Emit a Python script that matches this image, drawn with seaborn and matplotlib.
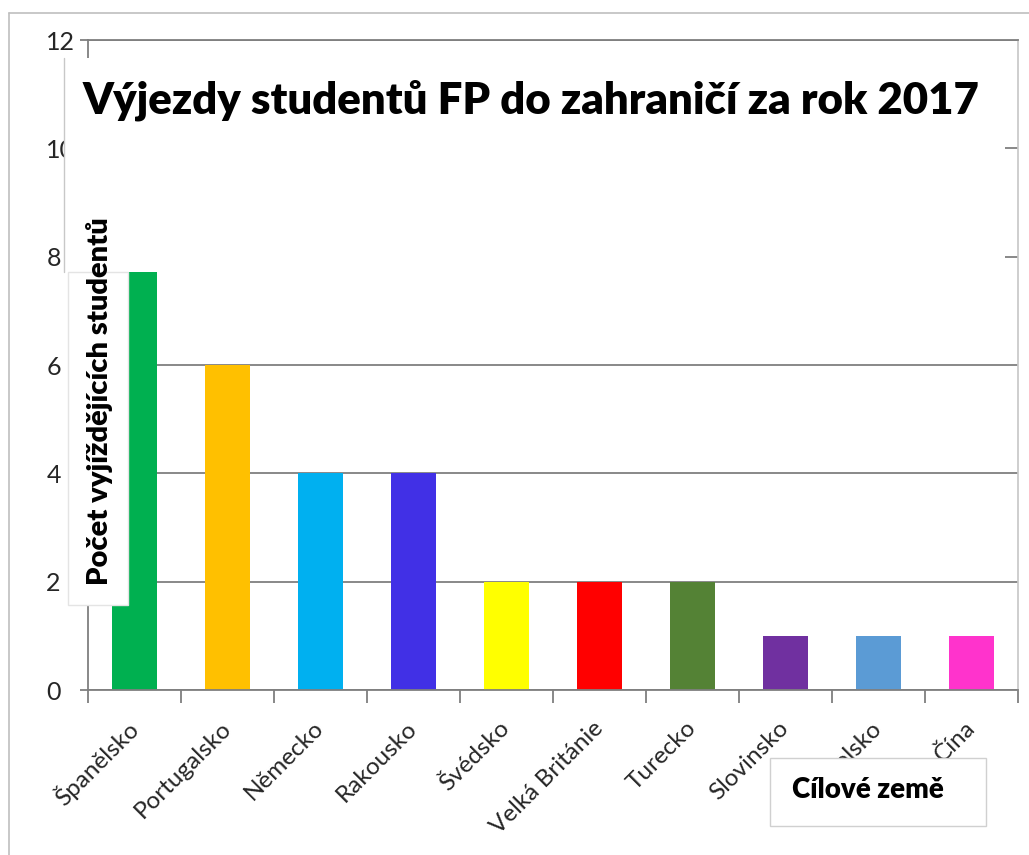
import matplotlib
matplotlib.use("Agg")
import matplotlib.pyplot as plt
from matplotlib.patches import Rectangle
from matplotlib.lines import Line2D
import numpy as np
import pandas as pd
import seaborn as sns

countries = ["Španělsko", "Portugalsko", "Německo", "Rakousko", "Švédsko",
             "Velká Británie", "Turecko", "Slovinsko", "Polsko", "Čína"]
students = [8, 6, 4, 4, 2, 2, 2, 1, 1, 1]
colors = ["#00B050", "#FFC000", "#00B0F0", "#4130E6", "#FFFF00",
          "#FF0000", "#548235", "#7030A0", "#5B9BD5", "#FF33CC"]

title = "Výjezdy studentů FP do zahraničí za rok 2017"
ylabel = "Počet vyjíždějících studentů"
xlabel = "Cílové země"

sns.set_theme(style="white")
plt.rcParams["font.family"] = ["Lato", "DejaVu Sans"]

W, H = 1029, 855
fig = plt.figure(figsize=(W / 100, H / 100), dpi=100)


def fx(x):
    return x / W


def fy(y):
    return 1 - y / H


ax = fig.add_axes([fx(88), fy(690), fx(1018) - fx(88), fy(40) - fy(690)])
df = pd.DataFrame({"zeme": countries, "pocet": students})
sns.barplot(data=df, x="zeme", y="pocet", hue="zeme", palette=colors,
            width=0.49, saturation=1, legend=False, linewidth=0, ax=ax)

grey = "#7f7f7f"
ax.set_xlim(-0.5, 9.5)
ax.set_ylim(0, 12)
ax.set_yticks(range(0, 13, 2))
ax.yaxis.grid(True, color=grey, lw=1.3)
ax.set_axisbelow(True)
ax.set_xlabel("")
ax.set_ylabel("")
for side in ["left", "bottom", "top"]:
    ax.spines[side].set_color(grey)
    ax.spines[side].set_linewidth(1.3)
ax.spines["right"].set_color("#c8c8c8")

# ticks at category boundaries, labels at centres
ax.set_xticks(np.arange(11) - 0.5, [""] * 11)
ax.set_xticks(range(10), countries, minor=True)
ax.tick_params(axis="x", which="major", length=9, width=1.3, color=grey, bottom=True)
ax.tick_params(axis="x", which="minor", length=0, pad=25, labelsize=17.5,
               labelcolor="#262626", labelrotation=45)
for lbl in ax.get_xticklabels(minor=True):
    lbl.set_ha("right")
    lbl.set_va("center")
    lbl.set_rotation_mode("anchor")

ax.tick_params(axis="y", length=6, width=1.3, color=grey, left=True, pad=24,
               labelsize=18, labelcolor="#262626")
for lbl in ax.get_yticklabels():
    lbl.set_ha("left")

# outer chart frame
fig.add_artist(Line2D([fx(9), 1], [fy(13), fy(13)], color="#bfbfbf", lw=1.2,
                      transform=fig.transFigure))
fig.add_artist(Line2D([fx(9), fx(9)], [fy(13), 0], color="#bfbfbf", lw=1.2,
                      transform=fig.transFigure))

# title box lying over the plot
fig.add_artist(Rectangle((fx(64), fy(272)), fx(1005) - fx(64), fy(58) - fy(272),
                         facecolor="white", edgecolor="none",
                         transform=fig.transFigure, zorder=5))
fig.add_artist(Line2D([fx(64), fx(64)], [fy(58), fy(272)], color="#c8c8c8", lw=1,
                      transform=fig.transFigure, zorder=6))
fig.text(fx(531), fy(100), title, ha="center", va="center", fontsize=31.5,
         fontweight="heavy", color="black", zorder=7)

# y label box
fig.add_artist(Rectangle((fx(68), fy(605)), fx(128) - fx(68), fy(272) - fy(605),
                         facecolor="white", edgecolor="#e4e4e4", lw=1,
                         transform=fig.transFigure, zorder=5))
fig.text(fx(100), fy(401), ylabel, rotation=90, ha="center", va="center",
         fontsize=21, fontweight="heavy", color="black", zorder=7)

# x label box
fig.add_artist(Rectangle((fx(770), fy(826)), fx(986) - fx(770), fy(758) - fy(826),
                         facecolor="white", edgecolor="#d0d0d0", lw=1,
                         transform=fig.transFigure, zorder=5))
fig.text(fx(868), fy(790), xlabel, ha="center", va="center", fontsize=20,
         fontweight="heavy", color="black", zorder=7)

fig.savefig("out.png", dpi=100)
